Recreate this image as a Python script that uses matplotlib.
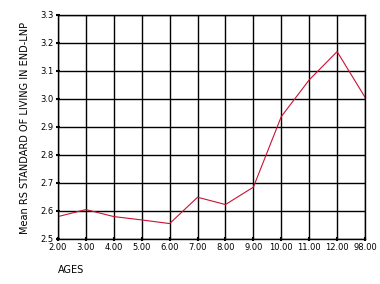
import matplotlib
matplotlib.use("Agg")
import matplotlib.pyplot as plt

# valeurs
ages = ["2.00", "3.00", "4.00", "5.00", "6.00", "7.00", "8.00",
        "9.00", "10.00", "11.00", "12.00", "98.00"]
means = [2.58, 2.605, 2.58, 2.568, 2.555, 2.649, 2.623,
         2.685, 2.937, 3.068, 3.169, 3.006]
yticks = [2.5, 2.6, 2.7, 2.8, 2.9, 3.0, 3.1, 3.2, 3.3]

fig = plt.figure(figsize=(3.8, 2.84), dpi=100)
ax = fig.add_axes([0.1526, 0.1585, 0.808, 0.789])

x = list(range(len(ages)))
ax.plot(x, means, color="#cc1133", linewidth=0.8)

ax.set_xlim(0, len(ages) - 1)
ax.set_ylim(2.5, 3.3)
ax.set_xticks(x)
ax.set_xticklabels(ages)
ax.set_yticks(yticks)
ax.set_yticklabels(["%.1f" % v for v in yticks])
ax.grid(True, color="black", linewidth=1.0)
ax.set_axisbelow(True)

for s in ax.spines.values():
    s.set_linewidth(1.0)
ax.tick_params(axis="both", labelsize=6, length=3, width=1.5, pad=1.5,
               direction="inout")

fig.text(0.066, 0.55, "Mean RS STANDARD OF LIVING IN END-LNP", rotation=90,
         ha="center", va="center", fontsize=7)
fig.text(0.153, 0.05, "AGES", ha="left", va="center", fontsize=7)

fig.savefig("out.png", dpi=100)
